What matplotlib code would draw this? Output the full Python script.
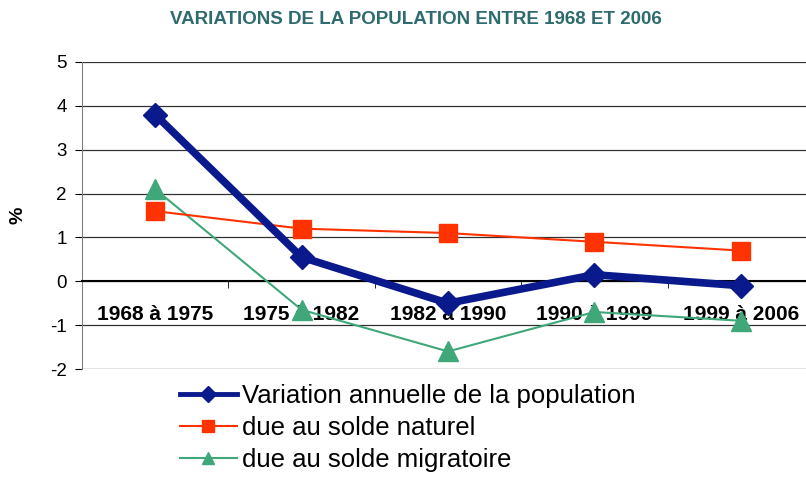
import matplotlib.pyplot as plt
from matplotlib.ticker import FixedLocator
import numpy as np

periodes = ['1968 à 1975', '1975 à 1982', '1982 à 1990', '1990 à 1999', '1999 à 2006']
variation_annuelle = [3.8, 0.55, -0.5, 0.15, -0.1]
solde_naturel = [1.6, 1.2, 1.1, 0.9, 0.7]
solde_migratoire = [2.1, -0.65, -1.6, -0.7, -0.9]
noms = ['Variation annuelle de la population', 'due au solde naturel', 'due au solde migratoire']

plt.rcParams['font.family'] = ['Liberation Sans', 'DejaVu Sans']
plt.rcParams['axes.unicode_minus'] = False

fig = plt.figure(figsize=(8.06, 4.78), dpi=100)
ax = fig.add_axes([82 / 806, 1 - 369 / 478, 732 / 806, 307 / 478])

x = np.arange(len(periodes))
ax.plot(x, variation_annuelle, color='#0A1A8C', lw=5.5, marker='D', ms=12, label=noms[0], zorder=5)
ax.plot(x, solde_naturel, color='#FF3300', lw=1.5, marker='s', ms=13, label=noms[1], zorder=4)
ax.plot(x, solde_migratoire, color='#3FA77A', lw=1.5, marker='^', ms=14, label=noms[2], zorder=3)

ax.set_xlim(-0.5, 4.5)
ax.set_ylim(-2, 5)
ax.set_yticks(range(-2, 6))
ax.tick_params(axis='y', labelsize=13.5, length=5, pad=6)
ax.yaxis.grid(True, color='#333333', lw=0.9)
ax.set_axisbelow(True)

ax.spines['top'].set_visible(False)
ax.spines['right'].set_visible(False)
ax.spines['left'].set_color('#808080')
ax.spines['bottom'].set_position(('data', 0))
ax.spines['bottom'].set_linewidth(1.5)

ax.set_xticks(x)
ax.set_xticklabels(periodes, fontweight='bold', fontsize=15)
ax.xaxis.set_minor_locator(FixedLocator(np.arange(-0.5, 5, 1)))
ax.tick_params(axis='x', which='major', length=0, pad=17)
ax.tick_params(axis='x', which='minor', length=5, direction='out')

fig.text(416 / 806, 1 - 19 / 478, 'VARIATIONS DE LA POPULATION ENTRE 1968 ET 2006',
         ha='center', va='center', color='#2D6B6E', fontweight='bold', fontsize=13.5)
fig.text(18 / 806, 1 - 215 / 478, '%', rotation=90, ha='center', va='center',
         fontweight='bold', fontsize=14)

leg = fig.legend(loc='upper left', bbox_to_anchor=(180 / 806, 1 - 384 / 478), frameon=False,
                 fontsize=18.5, handlelength=2.2, handletextpad=0.2, labelspacing=0.32,
                 borderpad=0, borderaxespad=0, markerscale=0.65)
for line, lw in zip(leg.get_lines(), [3.5, 1.5, 1.5]):
    line.set_linewidth(lw)

fig.savefig('out.png', dpi=100)
